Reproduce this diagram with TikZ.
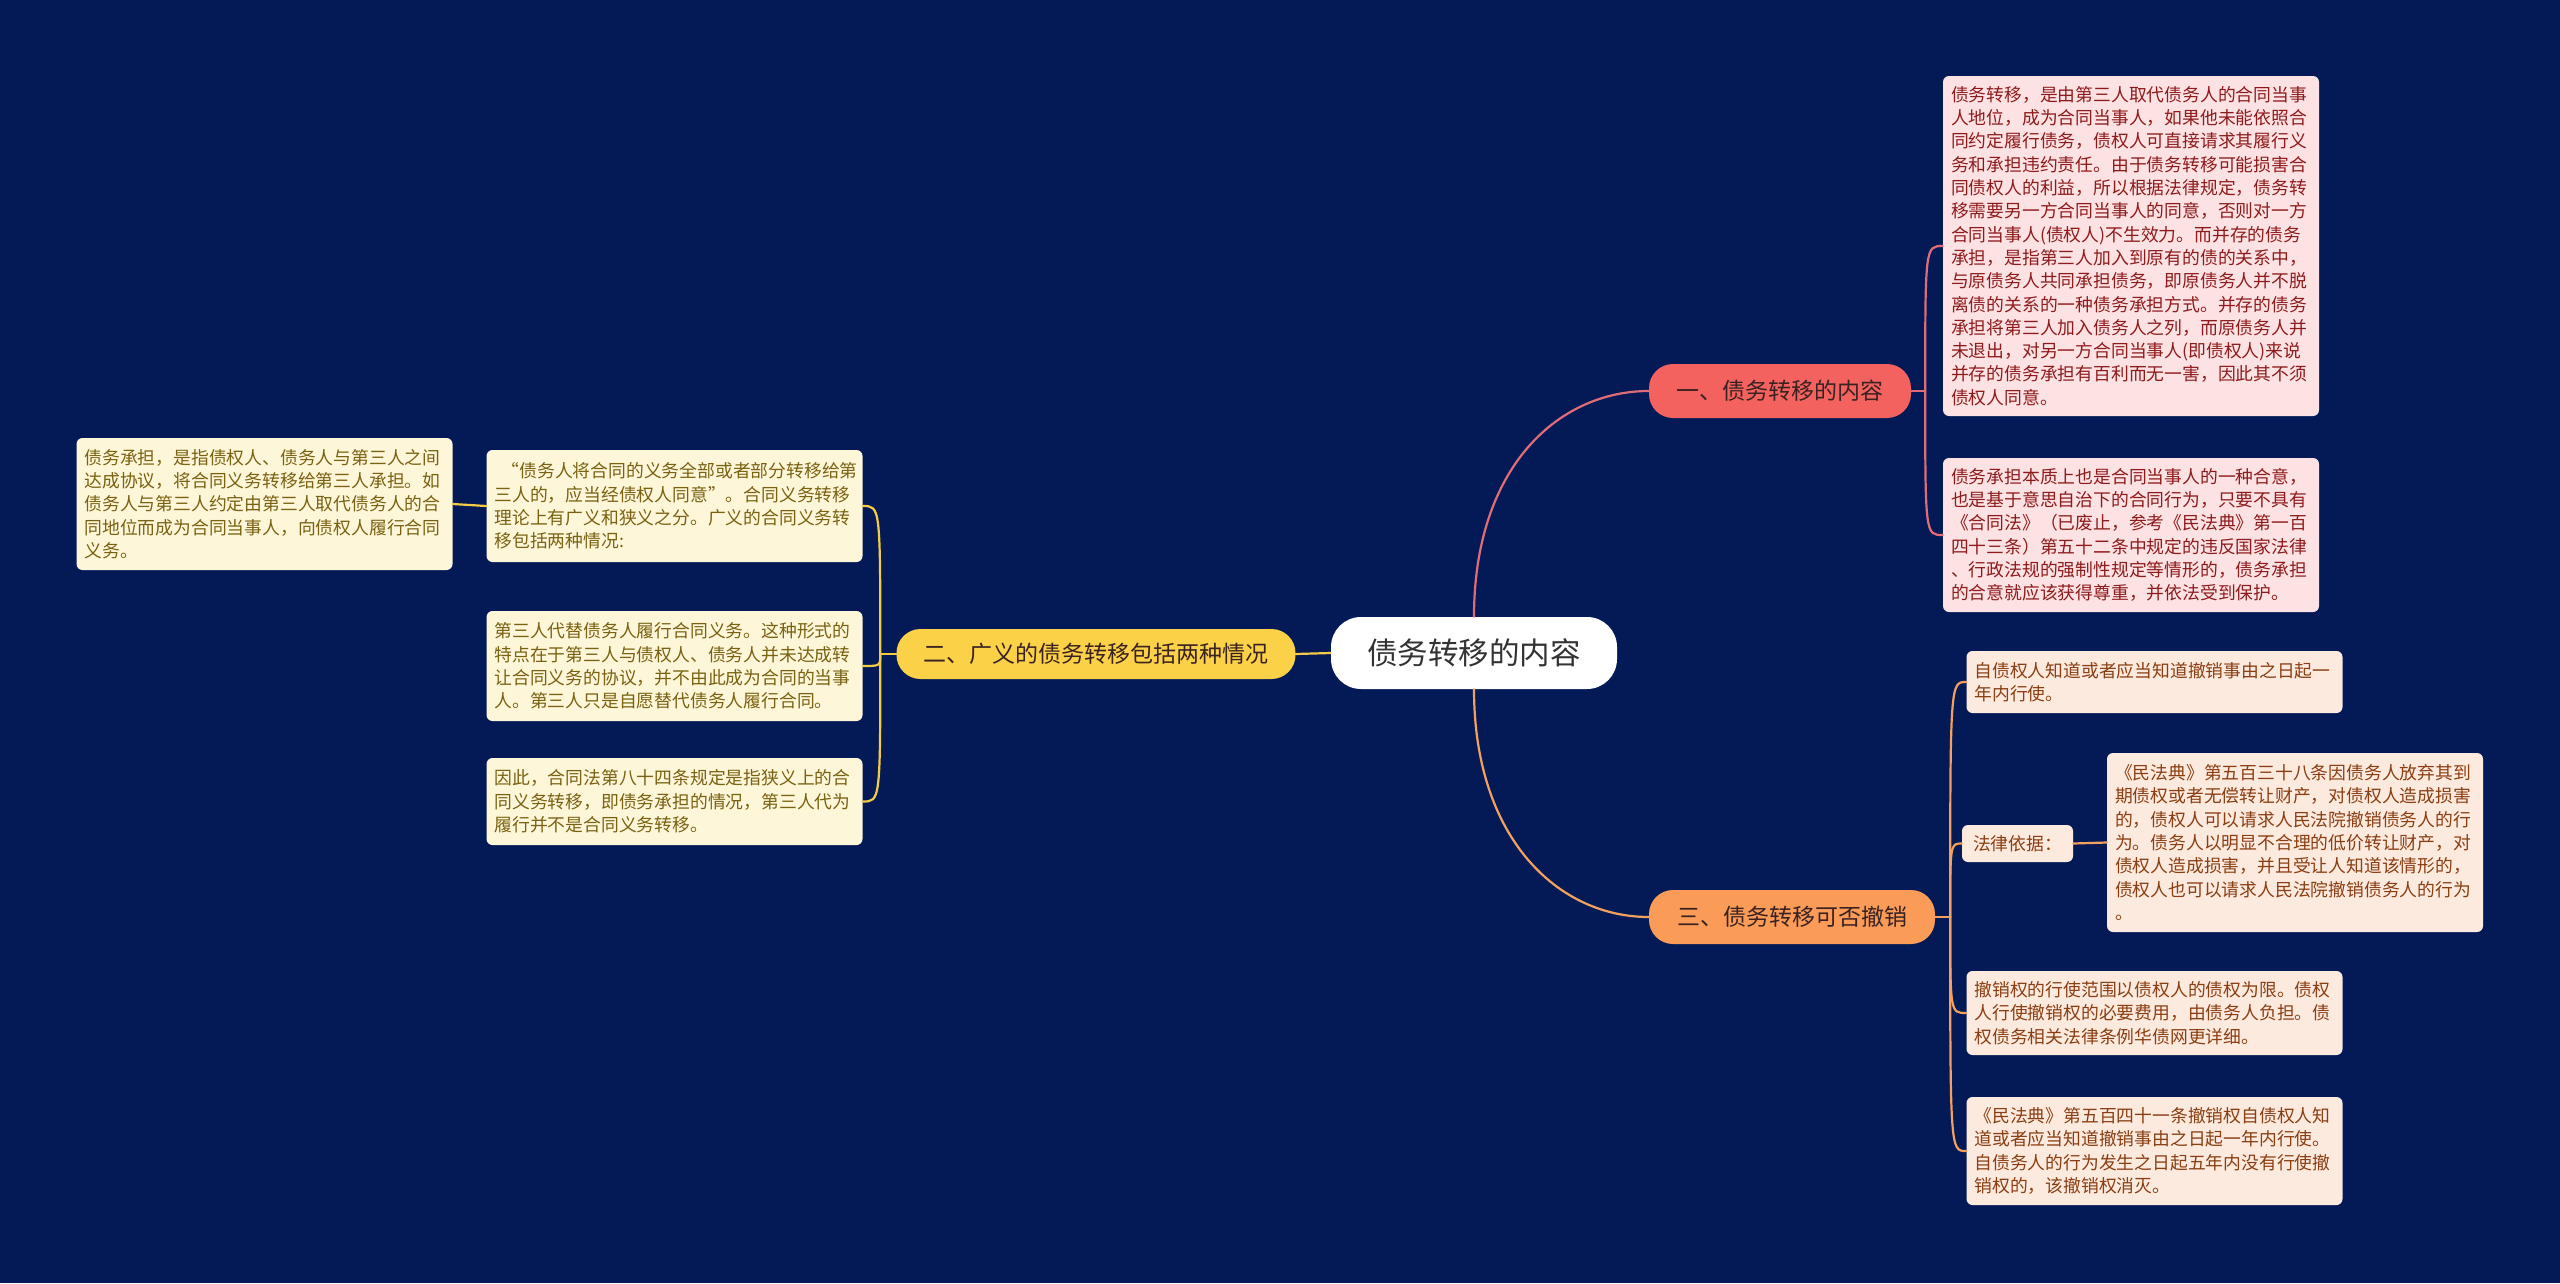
\documentclass[tikz,border=0pt]{standalone}
\usepackage{fontspec}
\setmainfont{Noto Sans CJK SC}
\usetikzlibrary{positioning}
\definecolor{navyBg}{HTML}{031A57}
\definecolor{rootInk}{HTML}{333333}
\definecolor{topicInk}{HTML}{3A2222}
\definecolor{redTopic}{HTML}{F3625E}
\definecolor{redLine}{HTML}{E06C78}
\definecolor{redLeaf}{HTML}{FDE2E4}
\definecolor{redInk}{HTML}{8E1B1B}
\definecolor{yellowTopic}{HTML}{FBD247}
\definecolor{yellowLine}{HTML}{F4CB45}
\definecolor{yellowLeaf}{HTML}{FEF6D8}
\definecolor{yellowInk}{HTML}{7A6212}
\definecolor{orangeTopic}{HTML}{FA9B57}
\definecolor{orangeLine}{HTML}{F3A15F}
\definecolor{orangeLeaf}{HTML}{FDEADF}
\definecolor{orangeInk}{HTML}{8A3E12}
\tikzset{
  root card/.style={
    fill=white,
    rounded corners=30pt,
    text=rootInk,
    font=\fontsize{30.5}{34}\selectfont,
    minimum width=286pt,
    minimum height=72pt,
    inner sep=0pt
  },
  topic card/.style={
    rounded corners=24pt,
    text=topicInk,
    font=\fontsize{23}{26}\selectfont,
    minimum height=54pt,
    inner sep=0pt
  },
  leaf base/.style={
    rounded corners=6pt,
    font=\fontsize{17.8}{23.3}\selectfont,
    align=left,
    inner xsep=8pt,
    inner ysep=3pt
  },
  leaf card/.style={
    leaf base,
    text width=360pt
  },
  red leaf/.style={leaf card, fill=redLeaf, text=redInk},
  yellow leaf/.style={leaf card, fill=yellowLeaf, text=yellowInk},
  orange leaf/.style={leaf card, fill=orangeLeaf, text=orangeInk},
  edge base/.style={line width=2.2pt, line cap=round},
  red edge/.style={edge base, draw=redLine},
  yellow edge/.style={edge base, draw=yellowLine},
  orange edge/.style={edge base, draw=orangeLine}
}

\begin{document}
\begin{tikzpicture}[x=1pt,y=-1pt]
  \useasboundingbox (0,0) rectangle (2560,1283);
  \fill[navyBg] (0,0) rectangle (2560,1283);

  % centre and main topics
  \node[root card] (root) at (1474,653) {债务转移的内容};
  \node[topic card,fill=redTopic,minimum width=262pt] (content) at (1780,391) {一、债务转移的内容};
  \node[topic card,fill=yellowTopic,minimum width=399pt,minimum height=50pt] (broad) at (1096,654) {二、广义的债务转移包括两种情况};
  \node[topic card,fill=orangeTopic,minimum width=286pt] (revoke) at (1792,917) {三、债务转移可否撤销};

  % leaves of the first topic
  \node[red leaf,minimum height=340pt] (content-a) at (2131,246) {
    债务转移，是由第三人取代债务人的合同当事\\
    人地位，成为合同当事人，如果他未能依照合\\
    同约定履行债务，债权人可直接请求其履行义\\
    务和承担违约责任。由于债务转移可能损害合\\
    同债权人的利益，所以根据法律规定，债务转\\
    移需要另一方合同当事人的同意，否则对一方\\
    合同当事人(债权人)不生效力。而并存的债务\\
    承担，是指第三人加入到原有的债的关系中，\\
    与原债务人共同承担债务，即原债务人并不脱\\
    离债的关系的一种债务承担方式。并存的债务\\
    承担将第三人加入债务人之列，而原债务人并\\
    未退出，对另一方合同当事人(即债权人)来说\\
    并存的债务承担有百利而无一害，因此其不须\\
    债权人同意。
  };
  \node[red leaf,minimum height=154pt] (content-b) at (2131,535) {
    债务承担本质上也是合同当事人的一种合意，\\
    也是基于意思自治下的合同行为，只要不具有\\
    《合同法》（已废止，参考《民法典》第一百\\
    四十三条）第五十二条中规定的违反国家法律\\
    、行政法规的强制性规定等情形的，债务承担\\
    的合意就应该获得尊重，并依法受到保护。
  };

  % leaves of the second topic
  \node[yellow leaf,minimum height=112pt] (broad-a) at (674.5,506) {
    \hspace*{0.4em}“债务人将合同的义务全部或者部分转移给第\\
    三人的，应当经债权人同意”。合同义务转移\\
    理论上有广义和狭义之分。广义的合同义务转\\
    移包括两种情况:
  };
  \node[yellow leaf,minimum height=132pt] (broad-def) at (264.5,504) {
    债务承担，是指债权人、债务人与第三人之间\\
    达成协议，将合同义务转移给第三人承担。如\\
    债务人与第三人约定由第三人取代债务人的合\\
    同地位而成为合同当事人，向债权人履行合同\\
    义务。
  };
  \node[yellow leaf,minimum height=110pt] (broad-b) at (674.5,666) {
    第三人代替债务人履行合同义务。这种形式的\\
    特点在于第三人与债权人、债务人并未达成转\\
    让合同义务的协议，并不由此成为合同的当事\\
    人。第三人只是自愿替代债务人履行合同。
  };
  \node[yellow leaf,minimum height=87pt] (broad-c) at (674.5,801.5) {
    因此，合同法第八十四条规定是指狭义上的合\\
    同义务转移，即债务承担的情况，第三人代为\\
    履行并不是合同义务转移。
  };

  % leaves of the third topic
  \node[orange leaf,minimum height=62pt] (revoke-a) at (2154.5,682) {
    自债权人知道或者应当知道撤销事由之日起一\\
    年内行使。
  };
  \node[leaf base,fill=orangeLeaf,text=orangeInk,minimum height=37pt,inner xsep=11pt] (basis) at (2017.5,843.5) {法律依据：};
  \node[orange leaf,minimum height=179pt] (basis-text) at (2295,842.5) {
    《民法典》第五百三十八条因债务人放弃其到\\
    期债权或者无偿转让财产，对债权人造成损害\\
    的，债权人可以请求人民法院撤销债务人的行\\
    为。债务人以明显不合理的低价转让财产，对\\
    债权人造成损害，并且受让人知道该情形的，\\
    债权人也可以请求人民法院撤销债务人的行为\\
    。
  };
  \node[orange leaf,minimum height=84pt] (revoke-c) at (2154.5,1013) {
    撤销权的行使范围以债权人的债权为限。债权\\
    人行使撤销权的必要费用，由债务人负担。债\\
    权债务相关法律条例华债网更详细。
  };
  \node[orange leaf,minimum height=108pt] (revoke-d) at (2154.5,1151) {
    《民法典》第五百四十一条撤销权自债权人知\\
    道或者应当知道撤销事由之日起一年内行使。\\
    自债务人的行为发生之日起五年内没有行使撤\\
    销权的，该撤销权消灭。
  };

  \coordinate[right=14pt of content.east] (content-joint);
  \coordinate[left=16pt of broad.west] (broad-joint);
  \coordinate[right=15pt of revoke.east] (revoke-joint);

  \draw[red edge] (root.north) to[out=90,in=180,out distance=150pt,in distance=90pt] (content.west);
  \draw[yellow edge] (root.west) -- (broad.east);
  \draw[orange edge] (root.south) to[out=-90,in=180,out distance=150pt,in distance=90pt] (revoke.west);

  \draw[red edge] (content.east) -- (content-joint);
  \draw[red edge] (content-joint) .. controls (content-joint |- content-a.west) .. (content-a.west);
  \draw[red edge] (content-joint) .. controls (content-joint |- content-b.west) .. (content-b.west);

  \draw[yellow edge] (broad.west) -- (broad-joint);
  \draw[yellow edge] (broad-joint) .. controls (broad-joint |- broad-a.east) .. (broad-a.east);
  \draw[yellow edge] (broad-joint) .. controls (broad-joint |- broad-b.east) .. (broad-b.east);
  \draw[yellow edge] (broad-joint) .. controls (broad-joint |- broad-c.east) .. (broad-c.east);
  \draw[yellow edge] (broad-a.west) -- (broad-def.east);

  \draw[orange edge] (revoke.east) -- (revoke-joint);
  \draw[orange edge] (revoke-joint) .. controls (revoke-joint |- revoke-a.west) .. (revoke-a.west);
  \draw[orange edge] (revoke-joint) .. controls (revoke-joint |- basis.west) .. (basis.west);
  \draw[orange edge] (revoke-joint) .. controls (revoke-joint |- revoke-c.west) .. (revoke-c.west);
  \draw[orange edge] (revoke-joint) .. controls (revoke-joint |- revoke-d.west) .. (revoke-d.west);
  \draw[orange edge] (basis.east) -- (basis-text.west);
\end{tikzpicture}
\end{document}
